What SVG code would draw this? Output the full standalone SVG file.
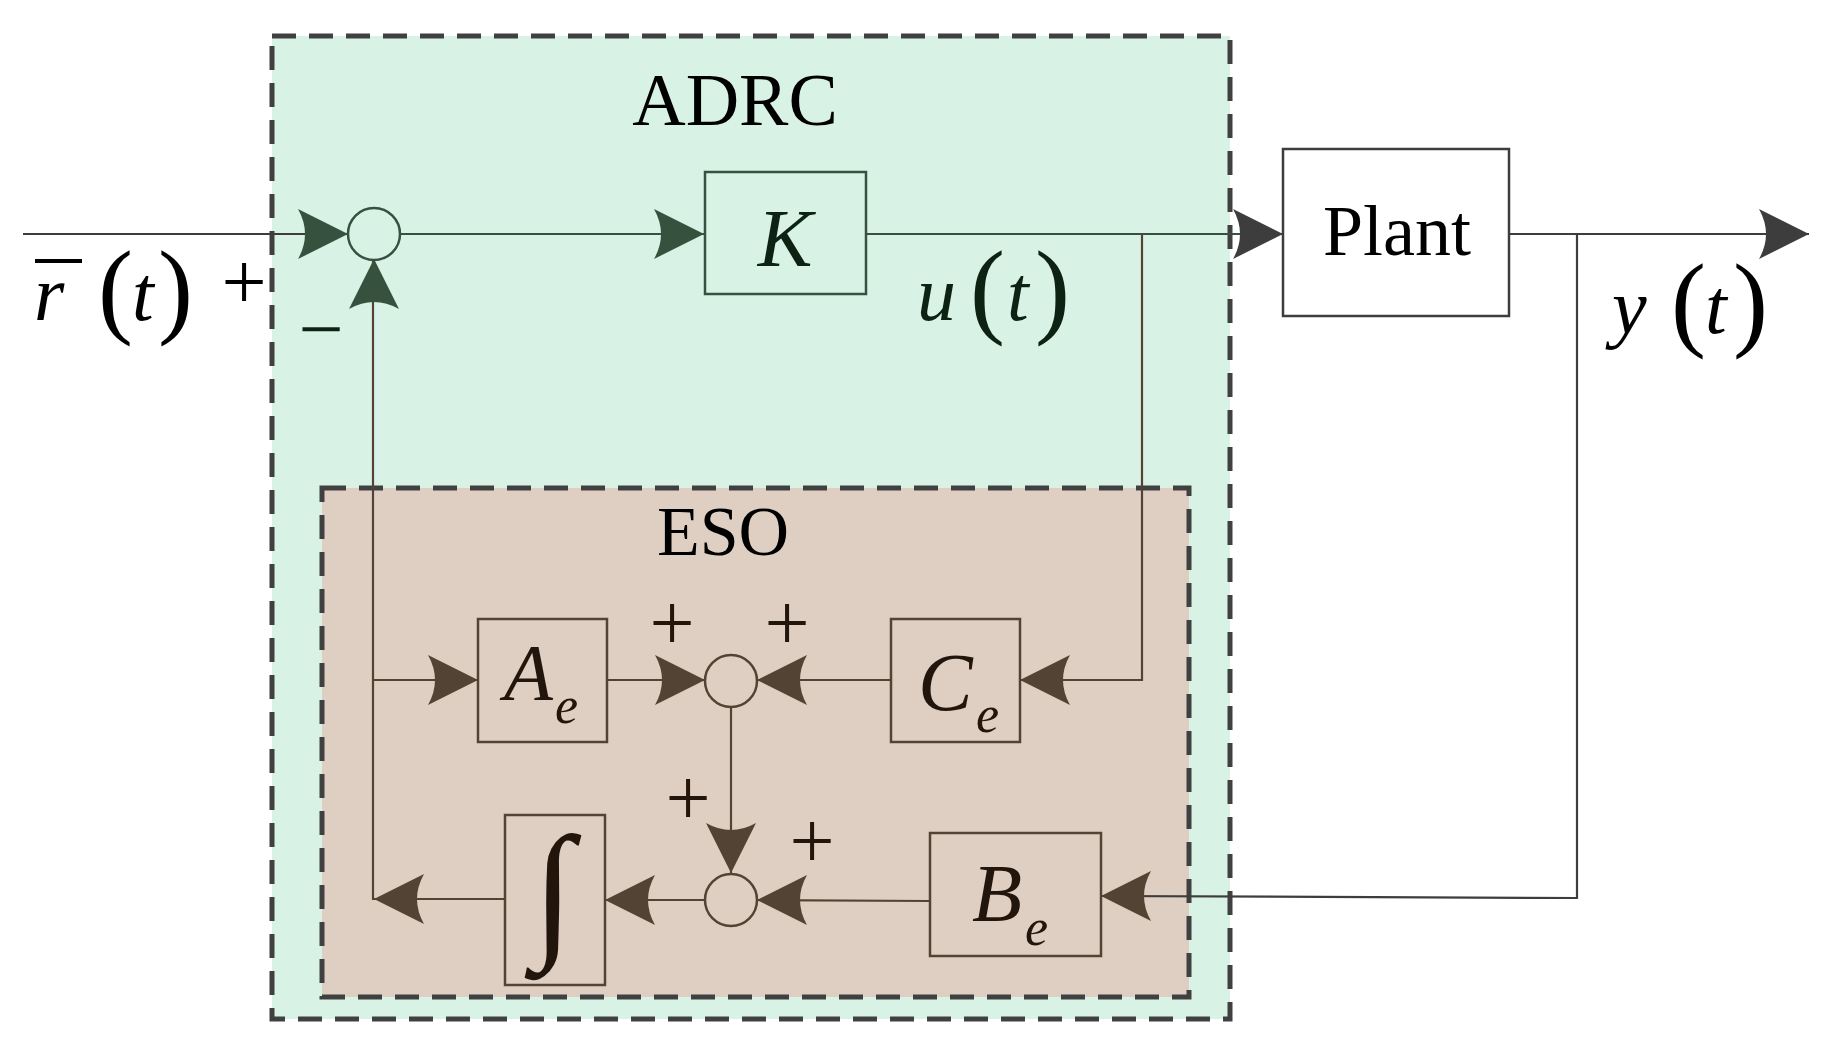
<svg xmlns="http://www.w3.org/2000/svg" xmlns:xlink="http://www.w3.org/1999/xlink" width="1832" height="1056" viewBox="0 0 1832 1056">
<style>
.t{font-family:"Liberation Serif","Times New Roman",serif}
.i{font-style:italic}
.g{fill:#0e2214}.b{fill:#22160c}.k{fill:#000}
.lg{stroke:#375040;stroke-width:2.2;fill:none}
.lb{stroke:#524334;stroke-width:2.2;fill:none}
.lk{stroke:#3d3d3d;stroke-width:2.2;fill:none}
.dash{stroke:#404040;stroke-width:5;stroke-dasharray:24 13}
</style>
<defs>
<path id="ah" d="M0,0 L-50,-25 Q-36,0 -50,25 Z"/>
</defs>
<rect id="adrc" x="272" y="36" width="958" height="983" fill="#d8f3e6" class="dash"/>
<rect id="eso" x="322" y="488" width="867" height="509" fill="#dfcfc3" class="dash"/>
<text class="t k" x="735" y="125" font-size="74" text-anchor="middle">ADRC</text>
<text class="t k" x="723" y="555" font-size="70" text-anchor="middle">ESO</text>

<g id="connectors">
<line x1="23" y1="234" x2="348" y2="234" class="lk"/>
<line x1="400" y1="234" x2="704" y2="234" class="lg"/>
<polyline points="866,234 1283,234" class="lg"/>
<polyline points="1142,234 1142,680 1020,680" class="lb"/>
<polyline points="1509,234 1809,234" class="lk"/>
<polyline points="1577,234 1577,898 1101,896" class="lk"/>
<polyline points="373,259 373,899 505,899" class="lb"/>
<line x1="373" y1="680" x2="478" y2="680" class="lb"/>
<line x1="607" y1="680" x2="705" y2="680" class="lb"/>
<line x1="757" y1="680" x2="891" y2="680" class="lb"/>
<line x1="731" y1="707" x2="731" y2="873" class="lb"/>
<line x1="757" y1="900" x2="930" y2="901" class="lb"/>
<line x1="605" y1="900" x2="705" y2="900" class="lb"/>
<g fill="#36523f">
<use xlink:href="#ah" transform="translate(348,234)"/>
<use xlink:href="#ah" transform="translate(704,234)"/>
<use xlink:href="#ah" transform="translate(374,259) rotate(-90)"/>
</g>
<g fill="#3d3d3d">
<use xlink:href="#ah" transform="translate(1283,234)"/>
<use xlink:href="#ah" transform="translate(1809,234)"/>
</g>
<g fill="#524334">
<use xlink:href="#ah" transform="translate(478,680)"/>
<use xlink:href="#ah" transform="translate(705,680)"/>
<use xlink:href="#ah" transform="translate(757,680) rotate(180)"/>
<use xlink:href="#ah" transform="translate(1020,680) rotate(180)"/>
<use xlink:href="#ah" transform="translate(731,873) rotate(90)"/>
<use xlink:href="#ah" transform="translate(757,900) rotate(180)"/>
<use xlink:href="#ah" transform="translate(1101,896) rotate(180)"/>
<use xlink:href="#ah" transform="translate(605,900) rotate(180)"/>
<use xlink:href="#ah" transform="translate(374,899) rotate(180)"/>
</g>
</g>

<g id="sum1"><circle cx="374" cy="234" r="26" fill="none" stroke="#375040" stroke-width="2.5"/></g>
<g id="K"><rect x="705" y="172" width="161" height="122" fill="none" stroke="#375040" stroke-width="2.5"/>
<text class="t i g" x="785" y="266" font-size="82" text-anchor="middle">K</text></g>
<g id="plant"><rect x="1283" y="149" width="226" height="167" fill="#fff" stroke="#3d3d3d" stroke-width="2.5"/>
<text class="t k" x="1397" y="255" font-size="72" text-anchor="middle">Plant</text></g>

<g id="Ae"><rect x="478" y="619" width="129" height="123" fill="none" stroke="#524334" stroke-width="2.5"/>
<text class="t i b" x="504" y="700" font-size="80">A</text><text class="t i b" x="555" y="723" font-size="52">e</text></g>
<g id="sum2"><circle cx="731" cy="681" r="26" fill="none" stroke="#524334" stroke-width="2.5"/></g>
<g id="Ce"><rect x="891" y="619" width="129" height="123" fill="none" stroke="#524334" stroke-width="2.5"/>
<text class="t i b" x="918" y="710" font-size="82">C</text><text class="t i b" x="976" y="732" font-size="52">e</text></g>
<g id="sum3"><circle cx="731" cy="900" r="26" fill="none" stroke="#524334" stroke-width="2.5"/></g>
<g id="int"><rect x="505" y="815" width="100" height="170" fill="none" stroke="#524334" stroke-width="2.5"/>
<text class="t b" x="553" y="940" font-size="150" text-anchor="middle">∫</text></g>
<g id="Be"><rect x="930" y="833" width="171" height="123" fill="none" stroke="#524334" stroke-width="2.5"/>
<text class="t i b" x="972" y="921" font-size="82">B</text><text class="t i b" x="1025" y="945" font-size="52">e</text></g>

<g id="signs" font-size="80" text-anchor="middle">
<text class="t k" x="244" y="309">+</text>
<text class="t g" x="321" y="356">−</text>
<text class="t b" x="672" y="650">+</text>
<text class="t b" x="787" y="650">+</text>
<text class="t b" x="688" y="825">+</text>
<text class="t b" x="812" y="868">+</text>
</g>

<g id="labels">
<line x1="35" y1="261" x2="82" y2="261" stroke="#000" stroke-width="4"/>
<text class="t i k" x="34" y="320" font-size="78">r</text>
<text class="t k" x="98" y="324" font-size="105">(</text>
<text class="t i k" x="132" y="320" font-size="78">t</text>
<text class="t k" x="158" y="324" font-size="105">)</text>
<text class="t i g" x="917" y="320" font-size="78">u</text>
<text class="t g" x="970" y="324" font-size="105">(</text>
<text class="t i g" x="1007" y="320" font-size="78">t</text>
<text class="t g" x="1035" y="324" font-size="105">)</text>
<text class="t i k" x="1612" y="333" font-size="78">y</text>
<text class="t k" x="1671" y="337" font-size="105">(</text>
<text class="t i k" x="1705" y="333" font-size="78">t</text>
<text class="t k" x="1733" y="337" font-size="105">)</text>
</g>
</svg>
